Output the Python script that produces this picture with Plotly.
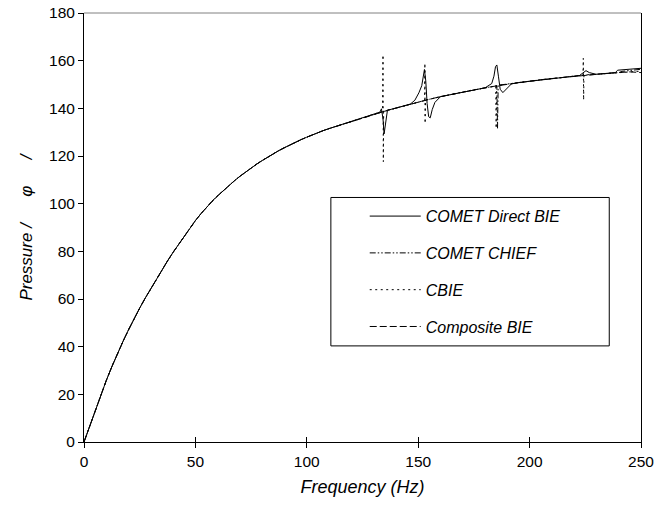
import plotly.graph_objects as go

# ---- data ----
base_freq = [0, 2.5, 5, 7.5, 10, 12.5, 15, 17.5, 20, 22.5, 25, 27.5, 30, 32.5, 35, 37.5,
             40, 42.5, 45, 47.5, 50, 52.5, 55, 57.5, 60, 62.5, 65, 67.5, 70, 72.5, 75, 77.5,
             80, 82.5, 85, 87.5, 90, 92.5, 95, 97.5, 100, 102.5, 105, 107.5, 110,
             115, 120, 125, 130, 135, 140, 145, 150, 155, 160, 165, 170, 175, 180, 185,
             190, 195, 200, 205, 210, 215, 220, 225, 230, 235, 240, 245, 250]
base_pressure = [0, 6.6, 13.2, 19.6, 25.8, 31.6, 37.1, 42.2, 47.1, 51.8, 56.2, 60.4, 64.4, 68.3, 72.2, 76.0,
                 79.6, 83.0, 86.5, 89.8, 92.9, 95.8, 98.5, 101.0, 103.3, 105.5, 107.6, 109.6, 111.5, 113.3, 115.0, 116.6,
                 118.1, 119.6, 121.0, 122.3, 123.5, 124.7, 125.8, 126.9, 127.9, 128.9, 129.8, 130.7, 131.5,
                 133.0, 134.5, 136.0, 137.4, 138.8, 140.1, 141.4, 142.6, 143.8, 144.9, 145.9, 146.9, 147.8, 148.6, 149.4,
                 150.1, 150.8, 151.4, 152.0, 152.5, 153.0, 153.5, 153.9, 154.3, 154.7, 155.0, 155.3, 155.6]

# COMET Direct BIE: deviations near the irregular frequencies and at the top end
direct_freq = [132.8, 133.5, 134.2, 134.7, 135.3, 136.2,
               146.5, 148.5, 150.3, 151.6, 152.3, 152.8, 153.4, 154.0, 154.7, 155.4, 156.3, 157.5,
               183.0, 184.0, 184.7, 185.3, 186.0, 186.8, 188.0, 190.0, 191.9,
               222.3, 223.8, 225.3, 226.8, 229.8,
               238.5, 239.5, 244.5, 250.0]
direct_pressure = [138.4, 139.8, 135.5, 129.3, 133.5, 139.2,
                   141.8, 143.4, 146.5, 149.5, 153.5, 156.3, 151.5, 142.0, 136.5, 136.0, 139.5, 142.5,
                   150.4, 153.5, 157.5, 158.2, 153.5, 148.0, 146.6, 148.6, 150.3,
                   153.7, 154.8, 155.8, 155.0, 154.3,
                   155.0, 156.0, 156.3, 156.8]

# COMET CHIEF
chief_freq = [185.3, 185.6, 185.9, 241.5, 244.5, 250.0]
chief_pressure = [149.5, 131.5, 149.7, 155.5, 155.9, 156.4]

# CBIE: sharp spikes at the irregular frequencies
cbie_freq = [134.0, 134.2, 134.35, 134.5, 152.9, 153.0, 153.1, 153.3,
             184.8, 185.0, 185.2, 224.0, 224.1, 224.25, 224.4]
cbie_pressure = [138.7, 162.4, 117.6, 138.9, 143.3, 158.9, 133.7, 143.5,
                 149.3, 131.6, 149.5, 153.9, 161.0, 143.5, 154.0]

# Composite BIE: smooth
composite_freq = [250.0]
composite_pressure = [155.0]

series_names = ["COMET Direct BIE", "COMET CHIEF", "CBIE", "Composite BIE"]
x_ticks = [0, 50, 100, 150, 200, 250]
y_ticks = [0, 20, 40, 60, 80, 100, 120, 140, 160, 180]


def merge(extra_f, extra_p):
    pts = [(f, p) for f, p in zip(base_freq, base_pressure)
           if all(abs(f - ef) > 1.0 for ef in extra_f)]
    pts += list(zip(extra_f, extra_p))
    pts.sort(key=lambda t: t[0])
    return [t[0] for t in pts], [t[1] for t in pts]


FONT = "Arial, 'Liberation Sans', sans-serif"
dashes = ["solid", "6px,2px,1.5px,2px,1.5px,2px", "2px,3.5px", "7px,3px"]
series = [merge(direct_freq, direct_pressure), merge(chief_freq, chief_pressure),
          merge(cbie_freq, cbie_pressure), merge(composite_freq, composite_pressure)]

fig = go.Figure()
for name, (fx, fy), dash in zip(series_names, series, dashes):
    fig.add_trace(go.Scatter(x=fx, y=fy, mode="lines", name=name, legendgroup=name,
                             line=dict(color="black", width=1, dash=dash)))
# helper axis for the crossing x ticks
fig.add_trace(go.Scatter(x=[], y=[], xaxis="x2", showlegend=False, hoverinfo="skip"))

fig.update_layout(
    width=659, height=520,
    margin=dict(l=84.3, r=18, t=13.1, b=78.3, autoexpand=False),
    paper_bgcolor="white", plot_bgcolor="white",
    font=dict(family=FONT, size=15, color="black"),
    showlegend=True,
    legend=dict(x=0.504, y=0.566, xanchor="left", yanchor="top",
                bgcolor="rgba(0,0,0,0)", borderwidth=0, itemwidth=51,
                font=dict(family=FONT, size=16, color="black", style="italic"),
                tracegroupgap=13),
    xaxis=dict(range=[0, 250], tickvals=x_ticks, showline=True, linecolor="black", linewidth=1,
               ticks="outside", ticklen=5, tickcolor="black", showgrid=False, zeroline=False,
               tickfont=dict(size=15.5), ticklabeloverflow="allow",
               title=dict(text="Frequency (Hz)", font=dict(size=18, style="italic"), standoff=11)),
    xaxis2=dict(range=[0, 250], tickvals=x_ticks, overlaying="x", anchor="y", side="bottom",
                ticks="inside", ticklen=5, tickcolor="black", showticklabels=False,
                showgrid=False, zeroline=False, showline=False),
    yaxis=dict(range=[0, 180], tickvals=y_ticks, showline=True, mirror=True, linecolor="black",
               linewidth=1, ticks="outside", ticklen=5, tickcolor="black", showgrid=False,
               zeroline=False, tickfont=dict(size=15.5), ticklabeloverflow="allow",
               title=dict(text="Pressure / \u00a0\u2003\u03c6 \u00a0\u2003/",
                          font=dict(size=17, style="italic"), standoff=12)),
    shapes=[
        dict(type="line", xref="paper", yref="paper", x0=0, x1=1, y0=1, y1=1,
             line=dict(color="#808080", width=1)),
        dict(type="rect", xref="paper", yref="paper", x0=0.4432, x1=0.943, y0=0.224, y1=0.570,
             line=dict(color="black", width=1), fillcolor="rgba(0,0,0,0)"),
    ],
)

fig.write_html("out.html", config={"displayModeBar": False},
               post_script="document.body.style.margin='0';")
